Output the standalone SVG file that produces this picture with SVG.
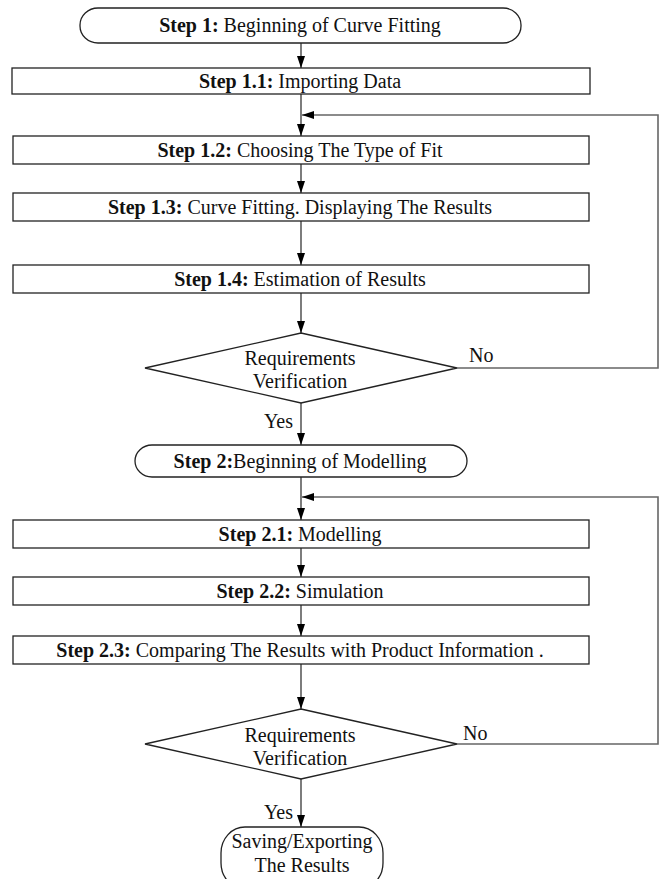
<svg xmlns="http://www.w3.org/2000/svg" width="660" height="879" viewBox="0 0 660 879">
<style>
.box{fill:#fff;stroke:#222;stroke-width:1.3}
.t{font-family:"Liberation Serif","Times New Roman",serif;font-size:20px;fill:#111;text-anchor:middle}
.b{font-weight:bold}
.lbl{font-family:"Liberation Serif","Times New Roman",serif;font-size:20px;fill:#111}
.c{fill:none;stroke:#111;stroke-width:1.1}
.loop{fill:none;stroke:#666;stroke-width:1.6}
</style>
<defs>
<marker id="ah" viewBox="0 0 12 8" refX="12" refY="4" markerWidth="12" markerHeight="8" markerUnits="userSpaceOnUse" orient="auto">
<path d="M0,0 L12,4 L0,8 Z" fill="#000"/>
</marker>
</defs>
<rect width="660" height="879" fill="#fff"/>
<g id="connectors">
<line class="c" x1="301" y1="43" x2="301" y2="68" marker-end="url(#ah)"/>
<line class="c" x1="301" y1="94" x2="301" y2="136" marker-end="url(#ah)"/>
<line class="c" x1="301" y1="164" x2="301" y2="193" marker-end="url(#ah)"/>
<line class="c" x1="301" y1="221" x2="301" y2="265" marker-end="url(#ah)"/>
<line class="c" x1="301" y1="293" x2="301" y2="333" marker-end="url(#ah)"/>
<line class="c" x1="301" y1="403" x2="301" y2="445" marker-end="url(#ah)"/>
<line class="c" x1="301" y1="477" x2="301" y2="520" marker-end="url(#ah)"/>
<line class="c" x1="301" y1="548" x2="301" y2="577" marker-end="url(#ah)"/>
<line class="c" x1="301" y1="605" x2="301" y2="636" marker-end="url(#ah)"/>
<line class="c" x1="301" y1="664" x2="301" y2="709" marker-end="url(#ah)"/>
<line class="c" x1="301" y1="779" x2="301" y2="827" marker-end="url(#ah)"/>
<polyline class="loop" points="457,368 658,368 658,115 302,115" marker-end="url(#ah)"/>
<polyline class="loop" points="457,744 658,744 658,497 302,497" marker-end="url(#ah)"/>
<text class="lbl" x="469" y="362">No</text>
<text class="lbl" x="463" y="740">No</text>
<text class="lbl" x="293" y="428" text-anchor="end">Yes</text>
<text class="lbl" x="293" y="819" text-anchor="end">Yes</text>
</g>
<g id="step1">
<rect class="box" x="80" y="8" width="441" height="35" rx="18" ry="17"/>
<text class="t" x="300" y="32"><tspan class="b">Step 1:</tspan> Beginning of Curve Fitting</text>
</g>
<g id="step1_1">
<rect class="box" x="12" y="68" width="578" height="26"/>
<text class="t" x="300" y="88"><tspan class="b">Step 1.1:</tspan> Importing Data</text>
</g>
<g id="step1_2">
<rect class="box" x="13" y="136" width="576" height="28"/>
<text class="t" x="300" y="157"><tspan class="b">Step 1.2:</tspan> Choosing The Type of Fit</text>
</g>
<g id="step1_3">
<rect class="box" x="13" y="193" width="576" height="28"/>
<text class="t" x="300" y="214"><tspan class="b">Step 1.3:</tspan> Curve Fitting. Displaying The Results</text>
</g>
<g id="step1_4">
<rect class="box" x="13" y="265" width="576" height="28"/>
<text class="t" x="300" y="286"><tspan class="b">Step 1.4:</tspan> Estimation of Results</text>
</g>
<g id="decision1">
<polygon class="box" points="301,333 457,368 301,403 145,368"/>
<text class="t" x="300" y="365">Requirements</text>
<text class="t" x="300" y="388">Verification</text>
</g>
<g id="step2">
<rect class="box" x="135" y="445" width="332" height="32" rx="17" ry="16"/>
<text class="t" x="300" y="468"><tspan class="b">Step 2:</tspan>Beginning of Modelling</text>
</g>
<g id="step2_1">
<rect class="box" x="13" y="520" width="576" height="28"/>
<text class="t" x="300" y="541"><tspan class="b">Step 2.1:</tspan> Modelling</text>
</g>
<g id="step2_2">
<rect class="box" x="13" y="577" width="576" height="28"/>
<text class="t" x="300" y="598"><tspan class="b">Step 2.2:</tspan> Simulation</text>
</g>
<g id="step2_3">
<rect class="box" x="13" y="636" width="576" height="28"/>
<text class="t" x="300" y="657"><tspan class="b">Step 2.3:</tspan> Comparing The Results with Product Information .</text>
</g>
<g id="decision2">
<polygon class="box" points="301,709 457,744 301,779 145,744"/>
<text class="t" x="300" y="742">Requirements</text>
<text class="t" x="300" y="765">Verification</text>
</g>
<g id="save">
<rect class="box" x="221" y="827" width="162" height="62" rx="24" ry="26"/>
<text class="t" x="302" y="848">Saving/Exporting</text>
<text class="t" x="302" y="872">The Results</text>
</g>
</svg>
